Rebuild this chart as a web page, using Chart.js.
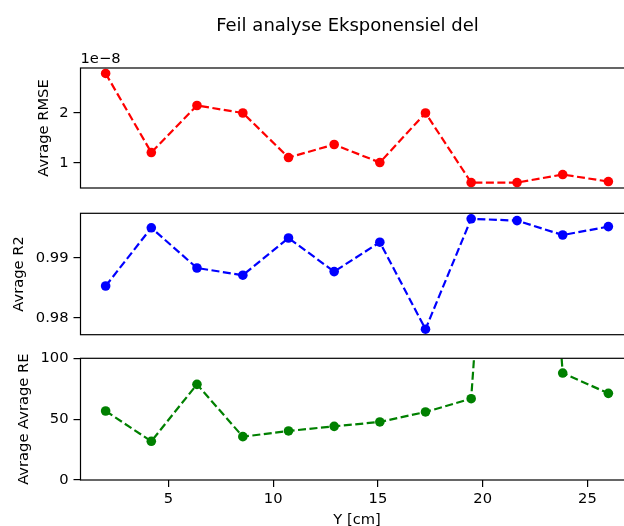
<!DOCTYPE html>
<html>
<head>
<meta charset="utf-8">
<script src="https://cdn.jsdelivr.net/npm/chart.js@4/dist/chart.umd.min.js"></script>
<style>
  html, body { margin: 0; padding: 0; background: #fff; overflow: hidden; }
  #fig { position: relative; width: 624px; height: 526px; overflow: hidden; background: #fff; }
  #fig canvas { position: absolute; left: 0; }
</style>
</head>
<body>
<div id="fig">
  <canvas id="cRmse" width="640" height="200" style="top:0px"></canvas>
  <canvas id="cR2" width="640" height="145" style="top:200px"></canvas>
  <canvas id="cRe" width="640" height="195" style="top:345px"></canvas>
</div>
<script>
// Measurement positions along Y [cm]
const yPositions = [2.00, 4.18, 6.36, 8.55, 10.73, 12.91, 15.09, 17.27, 19.45, 21.64, 23.82, 26.00];

// Average errors per position
const avgRmse = [2.79e-8, 1.21e-8, 2.15e-8, 2.00e-8, 1.11e-8, 1.37e-8, 1.01e-8, 2.00e-8, 0.61e-8, 0.61e-8, 0.77e-8, 0.63e-8];
const avgR2   = [0.9853, 0.9950, 0.9883, 0.9871, 0.9933, 0.9877, 0.9926, 0.9781, 0.9965, 0.9962, 0.9938, 0.9952];
const avgRe   = [56.7, 31.8, 78.6, 35.6, 40.3, 44.1, 47.7, 55.9, 66.8, 600, 87.9, 71.2];

// Tick labels
const xTicks    = [5, 10, 15, 20, 25];
const rmseTicks = [1e-8, 2e-8];
const r2Ticks   = [0.98, 0.99];
const reTicks   = [0, 50, 100];

const figTitle = 'Feil analyse Eksponensiel del';
const rmseOffsetLabel = '1e\u22128';

const FONT = 'DejaVu Sans';
const TICK_SIZE = 14.7;
const PLOT_LEFT = 80.5;
const X_MIN = 0.8, X_MAX = 27.2;

// Autoscale with a 5% margin on each side
function padded(values) {
  const lo = Math.min(...values), hi = Math.max(...values);
  const m = (hi - lo) * 0.05;
  return [lo - m, hi + m];
}

const framePlugin = {
  id: 'frame',
  afterDatasetsDraw(chart) {
    const { ctx, chartArea: a } = chart;
    ctx.save();
    ctx.strokeStyle = '#000';
    ctx.lineWidth = 1.2;
    ctx.strokeRect(a.left, a.top, a.right - a.left, a.bottom - a.top);
    ctx.restore();
  }
};

const headerPlugin = {
  id: 'header',
  afterDraw(chart) {
    const { ctx, chartArea: a } = chart;
    ctx.save();
    ctx.fillStyle = '#000';
    ctx.textBaseline = 'alphabetic';
    ctx.font = `18px "${FONT}"`;
    ctx.textAlign = 'center';
    ctx.fillText(figTitle, 347.5, 30.5);
    ctx.font = `${TICK_SIZE}px "${FONT}"`;
    ctx.textAlign = 'left';
    ctx.fillText(rmseOffsetLabel, a.left, a.top - 4.7);
    ctx.restore();
  }
};

function tickGrid() {
  return { drawOnChartArea: false, drawTicks: true, tickLength: 7, color: '#000', lineWidth: 1.2 };
}

function fixedTicks(values) {
  return scale => { scale.ticks = values.map(v => ({ value: v })); };
}

function makeChart(id, cfg) {
  const xScale = {
    type: 'linear', min: X_MIN, max: X_MAX,
    display: cfg.showX,
    afterBuildTicks: fixedTicks(xTicks),
    afterFit: s => {
      if (cfg.showX) s.height = 60;
      s.paddingLeft = 0; s.paddingRight = 0;
    },
    ticks: { font: { family: FONT, size: TICK_SIZE }, color: '#000', padding: 3, maxRotation: 0, autoSkip: false },
    grid: tickGrid(),
    border: { display: false },
    title: { display: true, text: 'Y [cm]', color: '#000',
             font: { family: FONT, size: TICK_SIZE, lineHeight: 1.2 },
             padding: { top: 0, bottom: 10.6 } }
  };
  const yScale = {
    type: 'linear', min: cfg.yRange[0], max: cfg.yRange[1],
    afterBuildTicks: fixedTicks(cfg.yTicks),
    afterFit: s => {
      s.width = PLOT_LEFT - cfg.padLeft;
      s.paddingTop = 0; s.paddingBottom = 0;
    },
    ticks: { font: { family: FONT, size: TICK_SIZE }, color: '#000', padding: 5, callback: cfg.fmt },
    grid: tickGrid(),
    border: { display: false },
    title: { display: true, text: cfg.yTitle, color: '#000',
             font: { family: FONT, size: TICK_SIZE, lineHeight: 1.2 }, padding: 0 }
  };
  return new Chart(document.getElementById(id), {
    type: 'line',
    data: {
      datasets: [{
        data: yPositions.map((x, i) => ({ x, y: cfg.values[i] })),
        borderColor: cfg.color,
        backgroundColor: cfg.color,
        pointBackgroundColor: cfg.color,
        pointBorderColor: cfg.color,
        pointBorderWidth: 0,
        pointRadius: 4.8,
        borderWidth: 2.2,
        borderDash: [8, 3.5],
        tension: 0,
        clip: 0
      }]
    },
    options: {
      responsive: false,
      animation: false,
      devicePixelRatio: 1,
      layout: { padding: { left: cfg.padLeft, right: 640 - 633.5, top: cfg.padTop, bottom: cfg.padBottom } },
      plugins: { legend: { display: false }, tooltip: { enabled: false } },
      scales: { x: xScale, y: yScale }
    },
    plugins: cfg.extraPlugins ? [framePlugin, ...cfg.extraPlugins] : [framePlugin]
  });
}

makeChart('cRmse', {
  values: avgRmse, color: '#ff0000', yTitle: 'Avrage RMSE',
  yRange: padded(avgRmse), yTicks: rmseTicks,
  fmt: v => String(Math.round(v / 1e-8)),
  padLeft: 35.2, padTop: 68, padBottom: 12, showX: false,
  extraPlugins: [headerPlugin]
});

makeChart('cR2', {
  values: avgR2, color: '#0000ff', yTitle: 'Avrage R2',
  yRange: padded(avgR2), yTicks: r2Ticks,
  fmt: v => v.toFixed(2),
  padLeft: 10.2, padTop: 13.3, padBottom: 10.3, showX: false
});

makeChart('cRe', {
  values: avgRe, color: '#008000', yTitle: 'Avrage Avrage RE',
  yRange: [0, 100], yTicks: reTicks,
  fmt: v => String(v),
  padLeft: 15.2, padTop: 13.3, padBottom: 0, showX: true
});
</script>
</body>
</html>
